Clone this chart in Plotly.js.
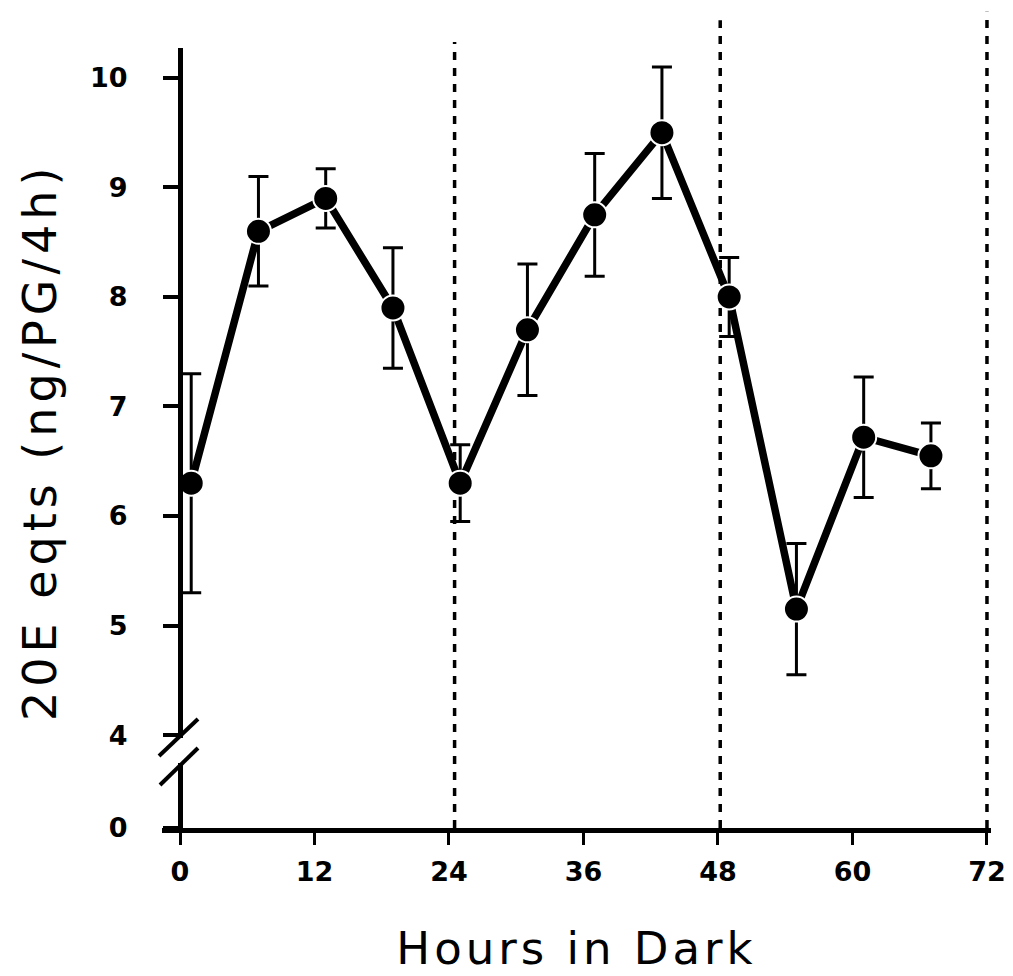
<!DOCTYPE html>
<html>
<head>
<meta charset="utf-8">
<script src="https://cdn.plot.ly/plotly-3.0.1.min.js"></script>
<style>
  html, body { margin: 0; padding: 0; background: #fff; }
  #chart { width: 1013px; height: 976px; }
  .xtitle { letter-spacing: 4px; }
  .annotation-text { letter-spacing: 5px; }
</style>
</head>
<body>
<div id="chart"></div>
<script>
// Data
var hours = [1, 7, 13, 19, 25, 31, 37, 43, 49, 55, 61, 67];
var ecdysteroid = [6.3, 8.6, 8.9, 7.9, 6.3, 7.7, 8.75, 9.5, 8.0, 5.15, 6.72, 6.55];
var errSE = [1.0, 0.5, 0.27, 0.55, 0.35, 0.6, 0.56, 0.6, 0.36, 0.6, 0.55, 0.3];
var xTicks = [0, 12, 24, 36, 48, 60, 72];
var yTicksUpper = [4, 5, 6, 7, 8, 9, 10];
var yTicksLower = [0];
var dayBoundaries = [24.5, 48.2, 72];
var boundaryTops = [0.9975, 1.025, 1.036];

var tickFont = {family: 'DejaVu Sans', size: 27, color: '#000', weight: 'bold'};

var trace = {
  x: hours,
  y: ecdysteroid,
  type: 'scatter',
  mode: 'lines+markers',
  xaxis: 'x',
  yaxis: 'y',
  line: {color: '#000', width: 7.5},
  marker: {color: '#000', size: 25, line: {color: '#fff', width: 2}},
  error_y: {type: 'data', array: errSE, visible: true, color: '#000', thickness: 3, width: 10},
  showlegend: false,
  cliponaxis: false
};

// empty trace so the lower (broken) part of the y axis is drawn
var lowerAxisTrace = {
  x: [], y: [], type: 'scatter', mode: 'markers',
  xaxis: 'x', yaxis: 'y2', showlegend: false, hoverinfo: 'skip'
};

var shapes = [];
dayBoundaries.forEach(function (xv, i) {
  shapes.push({type: 'line', xref: 'x', yref: 'paper', x0: xv, x1: xv, y0: 0, y1: boundaryTops[i],
    line: {color: '#000', width: 3.5, dash: '8px,8px'}, layer: 'below'});
});
// axis break marks
shapes.push({type: 'line', xref: 'paper', yref: 'paper', x0: -0.0036, y0: 0.0914, x1: 0.0434, y1: 0.1383,
  line: {color: '#000', width: 4}});
shapes.push({type: 'line', xref: 'paper', yref: 'paper', x0: -0.0024, y0: 0.0546, x1: 0.0434, y1: 0.1015,
  line: {color: '#000', width: 4}});

var layout = {
  width: 1013,
  height: 976,
  margin: {l: 162, r: 22, t: 40, b: 148},
  paper_bgcolor: '#fff',
  plot_bgcolor: 'rgba(0,0,0,0)',
  font: {family: 'DejaVu Sans', color: '#000'},
  xaxis: {
    range: [-1.606, 72.36],
    anchor: 'y2',
    tickvals: xTicks,
    ticktext: xTicks.map(String),
    ticks: 'outside', ticklen: 12, tickwidth: 3, tickcolor: '#000',
    showline: true, linewidth: 5, linecolor: '#000',
    showgrid: false, zeroline: false,
    tickfont: tickFont,
    ticklabelstandoff: 4,
    title: {text: 'Hours in Dark', font: {family: 'DejaVu Sans', size: 45, color: '#000'}, standoff: 48},
    automargin: false
  },
  yaxis: {
    domain: [0.1142, 0.9898],
    range: [3.973, 10.273],
    anchor: 'free', position: 0.0217,
    tickvals: yTicksUpper,
    ticks: 'outside', ticklen: 15, tickwidth: 4, tickcolor: '#000',
    showline: true, linewidth: 5, linecolor: '#000',
    showgrid: false, zeroline: false,
    tickfont: tickFont,
    ticklabelstandoff: 30,
    automargin: false
  },
  yaxis2: {
    domain: [0, 0.0825],
    range: [0, 0.59],
    anchor: 'free', position: 0.0217,
    tickvals: yTicksLower,
    ticks: 'outside', ticklen: 15, tickwidth: 4, tickcolor: '#000',
    showline: true, linewidth: 5, linecolor: '#000',
    showgrid: false, zeroline: false,
    tickfont: tickFont,
    ticklabelstandoff: 30,
    automargin: false
  },
  shapes: shapes,
  annotations: [{
    text: '20E eqts (ng/PG/4h)',
    xref: 'paper', yref: 'paper',
    x: -0.147, y: 0.49,
    xanchor: 'center', yanchor: 'middle',
    textangle: -90,
    showarrow: false,
    font: {family: 'DejaVu Sans', size: 46, color: '#000'}
  }]
};

Plotly.newPlot('chart', [trace, lowerAxisTrace], layout, {displayModeBar: false, staticPlot: true});
</script>
</body>
</html>
